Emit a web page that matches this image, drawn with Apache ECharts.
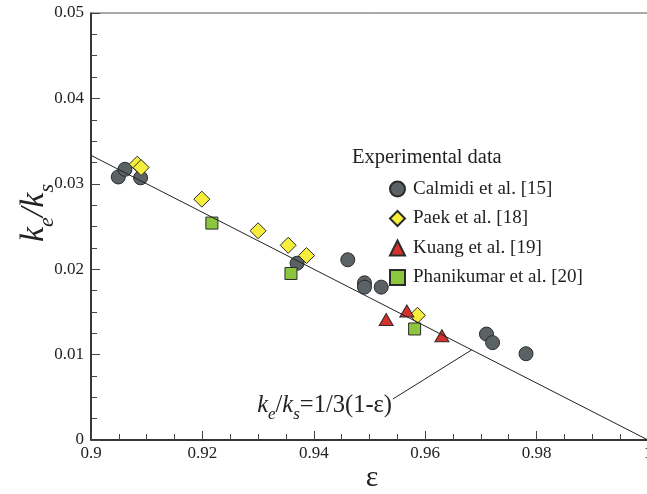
<!DOCTYPE html>
<html><head><meta charset="utf-8">
<script src="https://cdn.jsdelivr.net/npm/echarts@6/dist/echarts.min.js"></script>
<style>html,body{margin:0;padding:0;background:#fff}#c{width:647px;height:494px}</style>
</head><body><div id="c"></div>
<script>
const seriesNames = ['Calmidi et al. [15]', 'Paek et al. [18]', 'Kuang et al. [19]', 'Phanikumar et al. [20]'];
const calmidiEps = [0.9049, 0.9061, 0.9089, 0.9370, 0.9461, 0.9491, 0.9491, 0.9521, 0.9710, 0.9721, 0.9781];
const calmidiK   = [0.0308, 0.0317, 0.0307, 0.0207, 0.0211, 0.0184, 0.0179, 0.0179, 0.0124, 0.0114, 0.0101];
const paekEps = [0.9083, 0.9090, 0.9199, 0.9300, 0.9354, 0.9387, 0.9586];
const paekK   = [0.0323, 0.0319, 0.0282, 0.0245, 0.0228, 0.0216, 0.0146];
const kuangEps = [0.9530, 0.9567, 0.9630];
const kuangK   = [0.0141, 0.0151, 0.0122];
const phaniEps = [0.9217, 0.9359, 0.9581];
const phaniK   = [0.0254, 0.0195, 0.0130];
const lineEps = [0.9, 1.0];
const lineK   = [0.03333, 0];
const leaderEps = [0.9542, 0.96835];
const leaderK   = [0.0048, 0.01055];
const xTickLabels = ['0.9', '0.92', '0.94', '0.96', '0.98', '1'];
const yTickLabels = ['0', '0.01', '0.02', '0.03', '0.04', '0.05'];

const FONT = '"Liberation Serif", "DejaVu Serif", serif';
const zip = (a, b) => a.map((v, i) => [v, b[i]]);
const chart = echarts.init(document.getElementById('c'), null, {renderer: 'canvas'});

const mk = (name, eps, k, symbol, size, color) => ({
  type: 'scatter', name, data: zip(eps, k), symbol, symbolSize: size,
  itemStyle: {color, borderColor: '#2b2b2b', borderWidth: 1, opacity: 1},
  emphasis: {disabled: true}, z: 3
});

const axisCommon = {
  axisLine: {show: true, onZero: false, lineStyle: {color: '#111', width: 1.5}},
  axisTick: {show: true, inside: true, length: 9, lineStyle: {color: '#444', width: 1}},
  minorTick: {show: true, splitNumber: 4, length: 6, lineStyle: {color: '#444', width: 1}},
  splitLine: {show: false},
  axisLabel: {color: '#222', fontFamily: FONT, fontSize: 17}
};

chart.setOption({
  animation: false,
  backgroundColor: '#fff',
  grid: {left: 91, top: 13, width: 557, height: 427, show: true, borderColor: '#555', borderWidth: 1, containLabel: false, outerBoundsMode: 'none'},
  xAxis: Object.assign({}, axisCommon, {
    type: 'value', min: 0.9, max: 1.0, interval: 0.02,
    axisLabel: Object.assign({}, axisCommon.axisLabel, {margin: 5, showMaxLabel: true,
      formatter: v => xTickLabels[Math.round((v - 0.9) / 0.02)] })
  }),
  yAxis: Object.assign({}, axisCommon, {
    type: 'value', min: 0, max: 0.05, interval: 0.01,
    axisLabel: Object.assign({}, axisCommon.axisLabel, {margin: 7,
      formatter: v => yTickLabels[Math.round(v / 0.01)] })
  }),
  legend: {
    orient: 'vertical', left: 384, top: 174, itemWidth: 15, itemHeight: 15, itemGap: 9.5,
    data: seriesNames,
    textStyle: {fontFamily: FONT, fontSize: 19, lineHeight: 20, color: '#222', padding: [0, 0, 0, 3]},
    selectedMode: false
  },
  series: [
    {type: 'line', data: zip(lineEps, lineK), symbol: 'none', lineStyle: {color: '#222', width: 1}, z: 4, silent: true},
    {type: 'line', data: zip(leaderEps, leaderK), symbol: 'none', lineStyle: {color: '#222', width: 1}, z: 4, silent: true},
    mk(seriesNames[0], calmidiEps, calmidiK, 'circle', 14, '#5b6266'),
    mk(seriesNames[1], paekEps, paekK, 'diamond', 16, '#f7ee3c'),
    mk(seriesNames[2], kuangEps, kuangK, 'triangle', [14, 12], '#d6302c'),
    mk(seriesNames[3], phaniEps, phaniK, 'rect', 12, '#8cc63f')
  ],
  graphic: [
    {type: 'text', left: 352, top: 147, style: {text: 'Experimental data', font: '20.5px ' + FONT, fill: '#222'}},
    {type: 'text', x: 372, y: 478, style: {text: 'ε', font: '30px ' + FONT, fill: '#222', align: 'center', verticalAlign: 'middle'}},
    {type: 'text', x: 32, y: 213, rotation: Math.PI / 2,
      style: {
        text: '{k|k}{s|e}{k|/k}{s|s}', align: 'center', verticalAlign: 'middle', fill: '#222',
        rich: {
          k: {fontFamily: FONT, fontStyle: 'italic', fontSize: 34, lineHeight: 38, verticalAlign: 'bottom', fill: '#222'},
          s: {fontFamily: FONT, fontStyle: 'italic', fontSize: 22, lineHeight: 38, verticalAlign: 'bottom', padding: [0, 0, -7, 0], fill: '#222'}
        }
      }},
    {type: 'text', x: 392, y: 404,
      style: {
        text: '{k|k}{s|e}{n|/}{k|k}{s|s}{n|=1/3(1-ε)}', align: 'right', verticalAlign: 'middle', fill: '#222',
        rich: {
          k: {fontFamily: FONT, fontStyle: 'italic', fontSize: 24.5, lineHeight: 29, verticalAlign: 'bottom', fill: '#222'},
          n: {fontFamily: FONT, fontSize: 24.5, lineHeight: 29, verticalAlign: 'bottom', fill: '#222'},
          s: {fontFamily: FONT, fontStyle: 'italic', fontSize: 17, lineHeight: 29, verticalAlign: 'bottom', padding: [0, 0, -5, 0], fill: '#222'}
        }
      }}
  ]
});
</script></body></html>
